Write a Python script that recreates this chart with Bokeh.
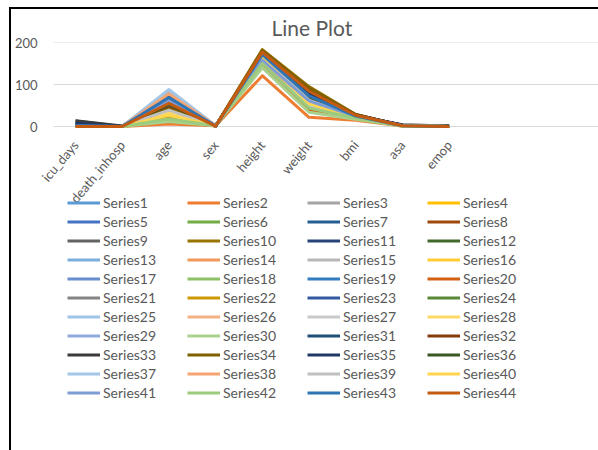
import math
from bokeh.plotting import figure
from bokeh.models import Range1d, FixedTicker, Legend, LegendItem
from bokeh.embed import file_html
from bokeh.resources import INLINE

categories = ["icu_days", "death_inhosp", "age", "sex", "height", "weight", "bmi", "asa", "emop"]

icu_days = [0, 0, 1, 0, 2, 0, 3, 0, 13, 0, 5, 0, 1, 0, 0, 0, 2, 0, 4, 0, 0, 0,
            1, 0, 0, 0, 0, 0, 1, 0, 6, 0, 14, 0, 8, 0, 0, 0, 0, 0, 1, 0, 2, 0]
death_inhosp = [0, 0, 0, 0, 0, 0, 0, 0, 0, 0, 0, 0, 0, 0, 0, 0, 0, 0, 0, 0, 0, 0,
                0, 0, 0, 0, 0, 0, 0, 0, 0, 0, 1, 0, 0, 0, 0, 0, 0, 0, 0, 0, 0, 0]
age = [77, 6, 54, 41, 65, 32, 58, 47, 62, 35, 71, 50, 80, 74, 44, 29, 68, 25, 60, 15, 56, 20,
       63, 38, 86, 72, 48, 33, 66, 12, 57, 45, 70, 42, 59, 52, 88, 78, 39, 27, 61, 18, 69, 55]
sex = [1, 2, 1, 2, 1, 2, 1, 2, 1, 1, 1, 2, 2, 2, 1, 2, 1, 2, 1, 1, 1, 1,
       2, 2, 1, 2, 1, 2, 1, 2, 1, 1, 1, 1, 1, 2, 2, 2, 1, 2, 2, 2, 1, 1]
height = [160, 121, 165, 158, 170, 162, 155, 172, 175, 183, 168, 163, 150, 148, 171, 160, 166, 157, 169, 145, 173, 178,
          156, 161, 164, 152, 170, 159, 167, 140, 174, 176, 165, 181, 172, 164, 154, 153, 168, 163, 158, 150, 171, 177]
weight = [58, 22, 62, 55, 70, 60, 52, 80, 72, 95, 78, 66, 48, 45, 74, 52, 64, 47, 69, 40, 76, 85,
          58, 57, 56, 62, 71, 51, 66, 34, 82, 88, 68, 92, 79, 67, 50, 60, 63, 54, 61, 44, 73, 84]
bmi = [22.7, 15.0, 22.8, 22.0, 24.2, 22.9, 21.6, 27.0, 23.5, 28.4, 27.6, 24.8, 21.3, 20.5, 25.3, 20.3, 23.2, 19.1, 24.2, 19.0, 25.4, 26.8,
       23.8, 22.0, 20.8, 26.8, 24.6, 20.2, 23.7, 17.3, 27.1, 28.4, 25.0, 28.1, 26.7, 24.9, 21.1, 25.6, 22.3, 20.3, 24.4, 19.6, 25.0, 26.8]
asa = [2, 1, 2, 1, 2, 1, 2, 2, 3, 2, 3, 2, 2, 2, 1, 1, 3, 1, 2, 1, 2, 1,
       2, 1, 3, 2, 2, 1, 2, 1, 3, 2, 4, 2, 3, 2, 2, 2, 1, 1, 2, 1, 2, 2]
emop = [0, 0, 0, 0, 0, 0, 0, 0, 1, 0, 0, 0, 0, 0, 0, 0, 0, 0, 1, 0, 0, 0,
        0, 0, 0, 0, 0, 0, 0, 0, 1, 0, 1, 0, 0, 0, 0, 0, 0, 0, 0, 0, 0, 0]

series_names = ["Series%d" % (i + 1) for i in range(44)]
y_ticks = [0, 100, 200]

palette = [
    "#5B9BD5", "#ED7D31", "#A5A5A5", "#FFC000", "#4472C4", "#70AD47",
    "#255E91", "#9E480E", "#636363", "#997300", "#264478", "#43682B",
    "#7CAFDD", "#F1975A", "#B7B7B7", "#FFCD33", "#698ED0", "#8CC168",
    "#327DC2", "#D26012", "#848484", "#CC9A00", "#335AA1", "#5A8A39",
    "#9DC3E6", "#F4B183", "#C9C9C9", "#FFD966", "#8FAADC", "#A9D18E",
    "#1F4E79", "#843C0C", "#3B3B3B", "#7F6000", "#203864", "#385723",
    "#A3C7E8", "#F4A572", "#C0C0C0", "#FFD54F", "#7E9DD6", "#9DCB7E",
    "#2E75B6", "#C55A11",
]

FONT = "Lato"
TXT = "#595959"
X_START, X_END = -1.028, 11.306     # visible x extent (frame reaches left so labels are not cut)
GRID_START = -0.471                 # where the plot area (gridlines) begins

# frame spans from the 200 gridline down to the bottom of the window;
# 0.42 px per unit as in the reference, so the range reaches well below zero
p = figure(frame_width=576, frame_height=408, output_backend="svg", toolbar_location=None,
           x_range=Range1d(X_START, X_END), y_range=Range1d(-771.4, 200),
           min_border_left=11, min_border_right=0, min_border_top=33, min_border_bottom=0)
p.styles = {"border-left": "2px solid black", "border-top": "2px solid black",
            "margin-left": "9px", "margin-top": "7px"}
p.outline_line_color = None
p.background_fill_color = "white"
p.border_fill_color = "white"

p.title.text = "Line Plot"
p.title.align = "left"
p.title.offset = 244
p.title.standoff = 6
p.title.text_font = FONT
p.title.text_font_size = "21px"
p.title.text_font_style = "normal"
p.title.text_color = TXT

# horizontal gridlines of the plot area
p.xgrid.grid_line_color = None
p.ygrid.grid_line_color = None
p.segment(x0=[GRID_START] * len(y_ticks), y0=y_ticks, x1=[X_END] * len(y_ticks), y1=y_ticks,
          line_color="#D9D9D9", line_width=1)

xs = list(range(len(categories)))
items = []
for i in range(44):
    ys = [icu_days[i], death_inhosp[i], age[i], sex[i], height[i], weight[i], bmi[i], asa[i], emop[i]]
    r = p.line(xs, ys, line_color=palette[i], line_width=3, line_join="round")
    items.append(LegendItem(label=series_names[i], renderers=[r]))

p.yaxis.ticker = FixedTicker(ticks=y_ticks)
p.yaxis.axis_line_color = None
p.yaxis.major_tick_line_color = None
p.yaxis.minor_tick_line_color = None
p.yaxis.major_label_text_font = FONT
p.yaxis.major_label_text_font_size = "13px"
p.yaxis.major_label_text_color = TXT
p.yaxis.major_label_standoff = -16

# category axis drawn at the zero line
p.xaxis.fixed_location = 0
p.xaxis.ticker = FixedTicker(ticks=xs)
p.xaxis.major_label_overrides = {i: c for i, c in enumerate(categories)}
p.xaxis.major_label_orientation = 0.87
p.xaxis.axis_line_color = None
p.xaxis.major_tick_line_color = None
p.xaxis.minor_tick_line_color = None
p.xaxis.major_label_text_font = FONT
p.xaxis.major_label_text_font_size = "13px"
p.xaxis.major_label_text_color = TXT
p.xaxis.major_label_standoff = 10

legend = Legend(items=items, ncols=4, orientation="horizontal", location=(40, 48),
                glyph_width=33, glyph_height=19, label_height=19, label_width=84,
                label_standoff=3, spacing=0, padding=10, margin=0,
                label_text_font=FONT, label_text_font_size="14px", label_text_color=TXT,
                border_line_color=None, background_fill_alpha=0)
p.add_layout(legend, "center")

open("out.html", "w").write(file_html(p, INLINE))
